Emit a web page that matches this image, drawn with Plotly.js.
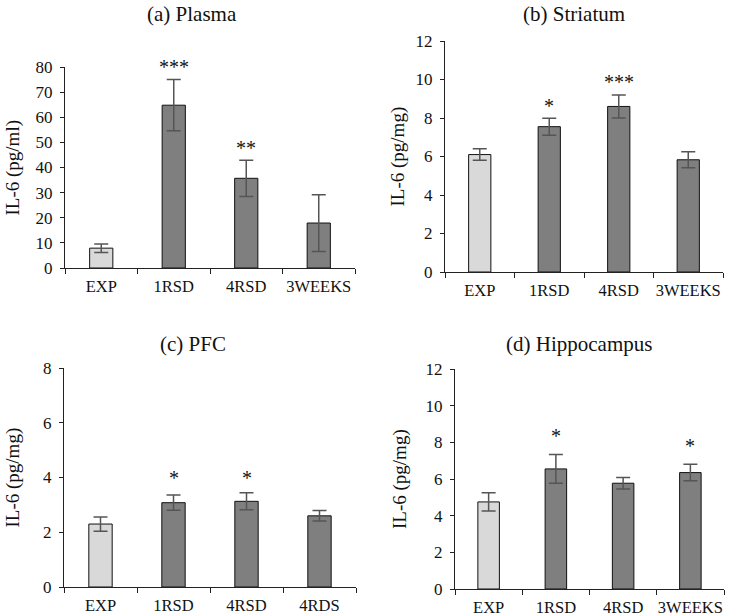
<!DOCTYPE html>
<html>
<head>
<meta charset="utf-8">
<script src="https://cdn.plot.ly/plotly-3.0.1.min.js"></script>
<style>html,body{margin:0;padding:0;background:#fff;}#chart{width:733px;height:616px;}</style>
</head>
<body>
<div id="chart"></div>
<script>
// ---- data ----
const catsA = ["EXP", "1RSD", "4RSD", "3WEEKS"];
const valsA = [7.9, 64.8, 35.7, 17.9];
const errA  = [1.7, 10.2, 7.2, 11.3];
const starsA = ["", "***", "**", ""];
const starYA = [null, 81.3, 48.9, null];

const catsB = ["EXP", "1RSD", "4RSD", "3WEEKS"];
const valsB = [6.1, 7.55, 8.6, 5.83];
const errB  = [0.3, 0.44, 0.6, 0.42];
const starsB = ["", "*", "***", ""];
const starYB = [null, 8.77, 10.03, null];

const catsC = ["EXP", "1RSD", "4RSD", "4RDS"];
const valsC = [2.3, 3.08, 3.13, 2.6];
const errC  = [0.26, 0.28, 0.31, 0.19];
const starsC = ["", "*", "*", ""];
const starYC = [null, 4.09, 4.09, null];

const catsD = ["EXP", "1RSD", "4RSD", "3WEEKS"];
const valsD = [4.75, 6.55, 5.77, 6.35];
const errD  = [0.5, 0.78, 0.31, 0.45];
const starsD = ["", "*", "", "*"];
const starYD = [null, 8.5, null, 7.99];

const titles = ["(a) Plasma", "(b) Striatum", "(c) PFC", "(d) Hippocampus"];
const yTitles = ["IL-6 (pg/ml)", "IL-6 (pg/mg)", "IL-6 (pg/mg)", "IL-6 (pg/mg)"];
const yRanges = [[0, 80], [0, 12], [0, 8], [0, 12]];
const yDtick = [10, 2, 2, 2];

// ---- build ----
const panels = [
  {c: catsA, v: valsA, e: errA, s: starsA, sy: starYA},
  {c: catsB, v: valsB, e: errB, s: starsB, sy: starYB},
  {c: catsC, v: valsC, e: errC, s: starsC, sy: starYC},
  {c: catsD, v: valsD, e: errD, s: starsD, sy: starYD}
];
const W = 733, H = 616;
const px = (a, b) => [a / W, b / W];
const py = (top, bot) => [1 - bot / H, 1 - top / H];
const xDomains = [px(65, 355), px(445, 723), px(64, 356), px(455, 724)];
const yDomains = [py(67, 268), py(41, 272), py(368, 587), py(369, 589)];
const titlePos = [[192, 14], [574, 14], [193, 344], [579, 344]];
const yTitleX = [13, 398, 12, 400];

const font = "Liberation Serif, Times New Roman, serif";
const traces = [];
const annotations = [];
const layout = {
  width: W, height: H,
  margin: {l: 0, r: 0, t: 0, b: 0},
  paper_bgcolor: "#fff", plot_bgcolor: "#fff",
  showlegend: false,
  font: {family: font, color: "#111", size: 16},
  bargap: 0.68
};

panels.forEach((p, i) => {
  const n = i === 0 ? "" : String(i + 1);
  traces.push({
    type: "bar",
    x: p.c, y: p.v,
    xaxis: "x" + n, yaxis: "y" + n,
    marker: {color: p.c.map((c, j) => j === 0 ? "#d9d9d9" : "#7f7f7f"),
             line: {color: "#111", width: 1}},
    error_y: {type: "data", array: p.e, visible: true, color: "#555", thickness: 1.5, width: 7},
    hoverinfo: "skip"
  });
  layout["xaxis" + n] = {
    domain: xDomains[i], anchor: "y" + n,
    type: "category",
    showline: true, linecolor: "#222", linewidth: 1,
    ticks: "outside", ticklen: 5, tickcolor: "#222",
    tickson: "boundaries", tickangle: 0,
    ticklabelstandoff: 3,
    showgrid: false, zeroline: false,
    tickfont: {family: font, size: 16.5, color: "#111"},
    fixedrange: true
  };
  layout["yaxis" + n] = {
    domain: yDomains[i], anchor: "x" + n,
    range: yRanges[i], dtick: yDtick[i], tick0: 0,
    showline: true, linecolor: "#222", linewidth: 1,
    ticks: "outside", ticklen: 4, tickcolor: "#222",
    ticklabelstandoff: 4,
    showgrid: false, zeroline: false,
    tickfont: {family: font, size: 17, color: "#111"},
    fixedrange: true
  };
  annotations.push({
    xref: "paper", yref: "paper",
    x: titlePos[i][0] / W, y: 1 - titlePos[i][1] / H,
    text: titles[i], showarrow: false,
    xanchor: "center", yanchor: "middle",
    font: {family: font, size: 21, color: "#111"}
  });
  annotations.push({
    xref: "paper", yref: "paper",
    x: yTitleX[i] / W, y: (yDomains[i][0] + yDomains[i][1]) / 2,
    text: yTitles[i], showarrow: false, textangle: -90,
    xanchor: "center", yanchor: "middle",
    font: {family: font, size: 19, color: "#111"}
  });
  p.s.forEach((st, j) => {
    if (!st) return;
    annotations.push({
      xref: "x" + n, yref: "y" + n + " domain",
      x: p.c[j], y: p.sy[j] / yRanges[i][1],
      text: st, showarrow: false,
      xanchor: "center", yanchor: "middle", yshift: -3,
      font: {family: font, size: 20, color: "#111"}
    });
  });
});
layout.annotations = annotations;

Plotly.newPlot("chart", traces, layout, {displayModeBar: false, staticPlot: true});
</script>
</body>
</html>
